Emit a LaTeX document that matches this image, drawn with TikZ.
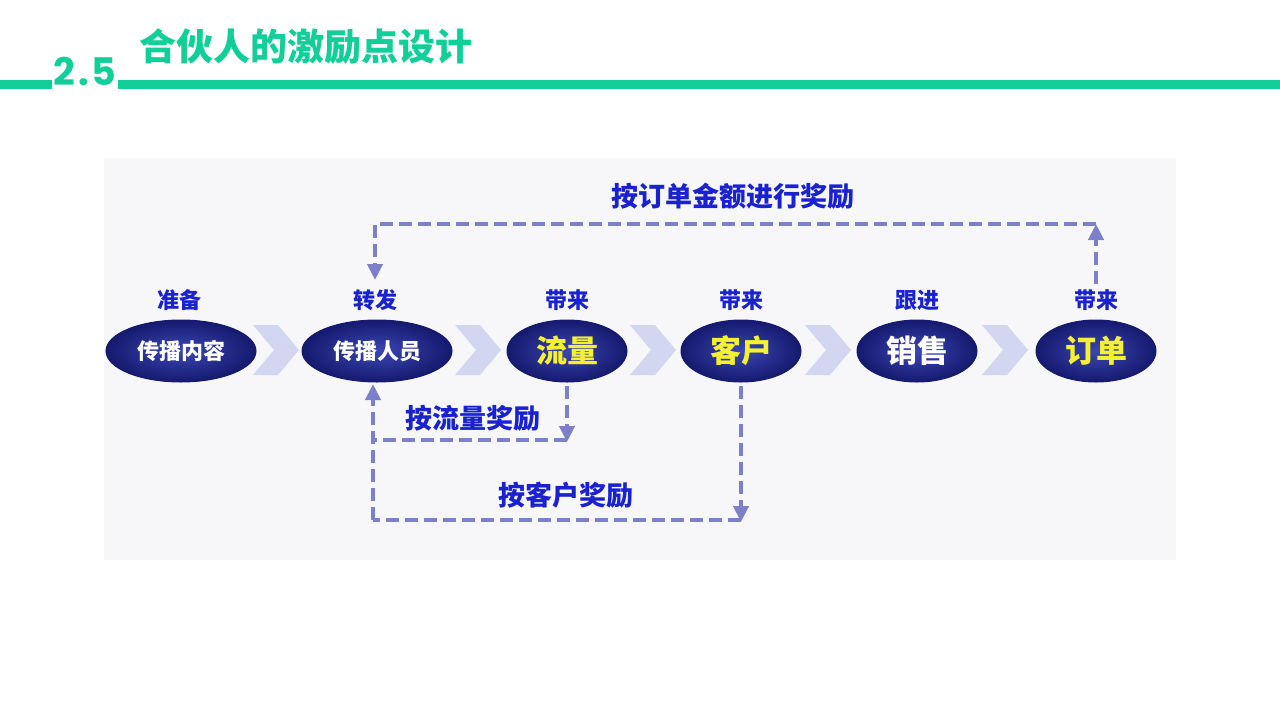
\documentclass[tikz,border=0pt]{standalone}
\usepackage{fontspec}
\newfontfamily\cjk{Noto Sans CJK SC}
\newfontfamily\numfont{Poppins}
\usetikzlibrary{positioning,shapes.geometric,arrows.meta}
\definecolor{titlegreen}{HTML}{12CE98}
\definecolor{panelgray}{HTML}{F7F7F9}
\definecolor{navydark}{HTML}{151A6E}
\definecolor{navylight}{HTML}{3A46B2}
\definecolor{labelblue}{HTML}{1A22D0}
\definecolor{dashblue}{HTML}{7B80C8}
\definecolor{chevron}{HTML}{D2D6F0}
\definecolor{stepyellow}{HTML}{F5F032}
\tikzset{ > = {Triangle[length = 16pt, width = 15pt]} }
\tikzset{
  stage/.style = { ellipse, minimum width = 150, minimum height = 62, inner sep = 0,
    shading = radial, inner color = navylight, outer color = navydark,
    draw = navydark, line width = 1, font = \cjk\bfseries\fontsize{22}{22}\selectfont, text = white },
  bigstage/.style = { stage, minimum width = 120, font = \cjk\bfseries\fontsize{31}{31}\selectfont },
  steplabel/.style = { font = \cjk\bfseries\fontsize{22}{22}\selectfont, text = labelblue },
  rewardlabel/.style = { font = \cjk\bfseries\fontsize{27}{27}\selectfont, text = labelblue },
  reward/.style = { draw = dashblue, line width = 4.5, dash pattern = on 13 off 6 }
}

\begin{document}
\begin{tikzpicture}
  [
    x = 1pt, y = -1pt
  ]
    \useasboundingbox (0,0) rectangle (1280,720);
    % title bar
    \fill [titlegreen] (0,80) rectangle (52,89);
    \fill [titlegreen] (118,80) rectangle (1280,89);
    \node (num) [text = titlegreen, font = \numfont\bfseries\fontsize{38}{38}\selectfont, inner sep = 0, anchor = base] at (85,85) {2\kern3pt.\kern3pt5};
    \node (title) [text = titlegreen, font = \cjk\bfseries\fontsize{37}{37}\selectfont, anchor = west, inner sep = 0] at (139,47) {合伙人的激励点设计};
    % panel
    \fill [panelgray] (104,158) rectangle (1176,560);
    % chevrons
    \foreach \cx in {276, 478, 653, 828, 1005}
      \fill [chevron] (\cx-23,325) -- (\cx+2,325) -- (\cx+23,350) -- (\cx+2,375) -- (\cx-23,375) -- (\cx-2,350) -- cycle;
    % stages
    \node (content) [stage] at (181,351) {传播内容};
    \node (people) [stage] at (377,351) {传播人员};
    \node (traffic) [bigstage, text = stepyellow] at (567,351) {流量};
    \node (client) [bigstage, text = stepyellow] at (741,351) {客户};
    \node (sales) [bigstage] at (917,351) {销售};
    \node (order) [bigstage, text = stepyellow] at (1096,351) {订单};
    \node (l1) [steplabel] at (179,300) {准备};
    \node (l2) [steplabel] at (375,300) {转发};
    \node (l3) [steplabel] at (567,300) {带来};
    \node (l4) [steplabel] at (741,300) {带来};
    \node (l5) [steplabel] at (917,300) {跟进};
    \node (l6) [steplabel] at (1096,300) {带来};
    % rewards
    \coordinate (ordertop) at (1096,284);
    \coordinate (topright) at (1096,224);
    \coordinate (peopletop) at (375,280);
    \coordinate (peoplebot) at (373,384);
    \coordinate (traffbot) at (567,386);
    \coordinate (traffend) at (567,442);
    \coordinate (clientbot) at (741,386);
    \coordinate (clientend) at (741,522);
    \coordinate (midleft) at (373,440);
    \coordinate (botleft) at (373,520);
    \draw [->, reward] (ordertop) -- (topright);
    \draw [->, reward] (topright) -- (375,224) -- (peopletop);
    \draw [->, reward] (traffbot) -- (traffend);
    \draw [reward] (567,440) -- (midleft);
    \draw [->, reward] (clientbot) -- (clientend);
    \draw [reward] (741,520) -- (botleft);
    \draw [->, reward] (botleft) -- (peoplebot);
    \node (r1) [rewardlabel] at (733,196) {按订单金额进行奖励};
    \node (r2) [rewardlabel] at (473,418) {按流量奖励};
    \node (r3) [rewardlabel] at (566,495) {按客户奖励};
  \end{tikzpicture}
\end{document}
